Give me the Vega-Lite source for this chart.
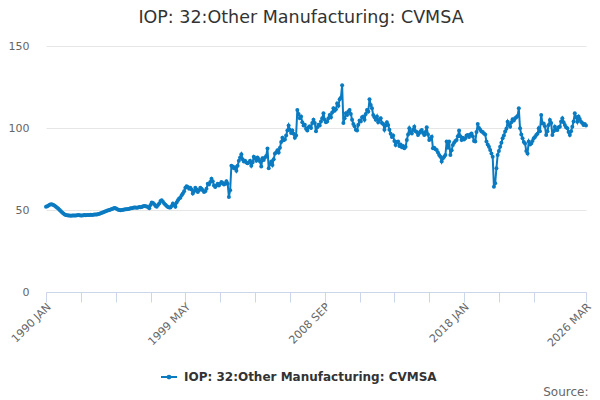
{
"$schema": "https://vega.github.io/schema/vega-lite/v6.json",
"width": 540, "height": 246,
"autosize": {"type": "none"},
"padding": {"left": 46, "top": 46, "right": 14, "bottom": 108},
"config": {"font": "DejaVu Sans", "view": {"stroke": null}},
"title": {"text": "IOP: 32:Other Manufacturing: CVMSA", "fontSize": 17.5, "fontWeight": "normal", "color": "#333333", "anchor": "middle", "dx": -15, "offset": 14},
"data": {"values": [
{"m":"1990 JAN","v":52.0},{"m":"1990 FEB","v":52.3},{"m":"1990 MAR","v":52.8},{"m":"1990 APR","v":53.2},{"m":"1990 MAY","v":53.5},{"m":"1990 JUN","v":53.4},{"m":"1990 JUL","v":53.0},{"m":"1990 AUG","v":52.6},{"m":"1990 SEP","v":52.0},{"m":"1990 OCT","v":51.4},{"m":"1990 NOV","v":50.8},{"m":"1990 DEC","v":50.0},
{"m":"1991 JAN","v":49.2},{"m":"1991 FEB","v":48.4},{"m":"1991 MAR","v":47.8},{"m":"1991 APR","v":47.3},{"m":"1991 MAY","v":47.0},{"m":"1991 JUN","v":46.8},{"m":"1991 JUL","v":46.6},{"m":"1991 AUG","v":46.6},{"m":"1991 SEP","v":46.5},{"m":"1991 OCT","v":46.6},{"m":"1991 NOV","v":46.7},{"m":"1991 DEC","v":46.6},
{"m":"1992 JAN","v":46.7},{"m":"1992 FEB","v":46.8},{"m":"1992 MAR","v":46.9},{"m":"1992 APR","v":46.8},{"m":"1992 MAY","v":46.7},{"m":"1992 JUN","v":46.7},{"m":"1992 JUL","v":46.8},{"m":"1992 AUG","v":46.9},{"m":"1992 SEP","v":46.8},{"m":"1992 OCT","v":46.9},{"m":"1992 NOV","v":47.0},{"m":"1992 DEC","v":47.0},
{"m":"1993 JAN","v":47.1},{"m":"1993 FEB","v":47.0},{"m":"1993 MAR","v":47.1},{"m":"1993 APR","v":47.2},{"m":"1993 MAY","v":47.2},{"m":"1993 JUN","v":47.3},{"m":"1993 JUL","v":47.5},{"m":"1993 AUG","v":47.7},{"m":"1993 SEP","v":48.0},{"m":"1993 OCT","v":48.3},{"m":"1993 NOV","v":48.6},{"m":"1993 DEC","v":48.9},
{"m":"1994 JAN","v":49.2},{"m":"1994 FEB","v":49.5},{"m":"1994 MAR","v":49.8},{"m":"1994 APR","v":50.0},{"m":"1994 MAY","v":50.3},{"m":"1994 JUN","v":50.6},{"m":"1994 JUL","v":50.9},{"m":"1994 AUG","v":51.2},{"m":"1994 SEP","v":51.0},{"m":"1994 OCT","v":50.6},{"m":"1994 NOV","v":50.2},{"m":"1994 DEC","v":50.0},
{"m":"1995 JAN","v":49.9},{"m":"1995 FEB","v":50.0},{"m":"1995 MAR","v":50.2},{"m":"1995 APR","v":50.3},{"m":"1995 MAY","v":50.4},{"m":"1995 JUN","v":50.5},{"m":"1995 JUL","v":50.6},{"m":"1995 AUG","v":50.8},{"m":"1995 SEP","v":51.0},{"m":"1995 OCT","v":51.1},{"m":"1995 NOV","v":51.3},{"m":"1995 DEC","v":51.5},
{"m":"1996 JAN","v":51.6},{"m":"1996 FEB","v":51.4},{"m":"1996 MAR","v":51.6},{"m":"1996 APR","v":51.8},{"m":"1996 MAY","v":51.7},{"m":"1996 JUN","v":51.9},{"m":"1996 JUL","v":52.3},{"m":"1996 AUG","v":52.5},{"m":"1996 SEP","v":52.3},{"m":"1996 OCT","v":52.1},{"m":"1996 NOV","v":51.8},{"m":"1996 DEC","v":51.0},
{"m":"1997 JAN","v":53.0},{"m":"1997 FEB","v":54.5},{"m":"1997 MAR","v":54.2},{"m":"1997 APR","v":53.5},{"m":"1997 MAY","v":52.5},{"m":"1997 JUN","v":52.0},{"m":"1997 JUL","v":53.0},{"m":"1997 AUG","v":54.0},{"m":"1997 SEP","v":55.5},{"m":"1997 OCT","v":56.0},{"m":"1997 NOV","v":55.0},{"m":"1997 DEC","v":54.0},
{"m":"1998 JAN","v":53.2},{"m":"1998 FEB","v":52.5},{"m":"1998 MAR","v":51.8},{"m":"1998 APR","v":51.5},{"m":"1998 MAY","v":51.5},{"m":"1998 JUN","v":52.5},{"m":"1998 JUL","v":54.0},{"m":"1998 AUG","v":53.0},{"m":"1998 SEP","v":52.0},{"m":"1998 OCT","v":54.5},{"m":"1998 NOV","v":56.0},{"m":"1998 DEC","v":57.0},
{"m":"1999 JAN","v":57.5},{"m":"1999 FEB","v":59.0},{"m":"1999 MAR","v":60.0},{"m":"1999 APR","v":61.5},{"m":"1999 MAY","v":63.5},{"m":"1999 JUN","v":64.5},{"m":"1999 JUL","v":64.0},{"m":"1999 AUG","v":63.0},{"m":"1999 SEP","v":63.5},{"m":"1999 OCT","v":62.5},{"m":"1999 NOV","v":60.0},{"m":"1999 DEC","v":61.5},
{"m":"2000 JAN","v":63.5},{"m":"2000 FEB","v":62.5},{"m":"2000 MAR","v":61.0},{"m":"2000 APR","v":62.0},{"m":"2000 MAY","v":63.5},{"m":"2000 JUN","v":63.0},{"m":"2000 JUL","v":62.0},{"m":"2000 AUG","v":61.0},{"m":"2000 SEP","v":61.5},{"m":"2000 OCT","v":63.0},{"m":"2000 NOV","v":66.0},{"m":"2000 DEC","v":65.5},
{"m":"2001 JAN","v":67.0},{"m":"2001 FEB","v":69.0},{"m":"2001 MAR","v":67.5},{"m":"2001 APR","v":65.0},{"m":"2001 MAY","v":64.0},{"m":"2001 JUN","v":65.0},{"m":"2001 JUL","v":66.0},{"m":"2001 AUG","v":65.0},{"m":"2001 SEP","v":66.0},{"m":"2001 OCT","v":67.0},{"m":"2001 NOV","v":66.5},{"m":"2001 DEC","v":65.5},
{"m":"2002 JAN","v":66.0},{"m":"2002 FEB","v":67.5},{"m":"2002 MAR","v":66.0},{"m":"2002 APR","v":58.0},{"m":"2002 MAY","v":62.0},{"m":"2002 JUN","v":77.0},{"m":"2002 JUL","v":76.5},{"m":"2002 AUG","v":75.5},{"m":"2002 SEP","v":76.0},{"m":"2002 OCT","v":74.0},{"m":"2002 NOV","v":77.0},{"m":"2002 DEC","v":80.0},
{"m":"2003 JAN","v":82.0},{"m":"2003 FEB","v":84.0},{"m":"2003 MAR","v":81.0},{"m":"2003 APR","v":79.5},{"m":"2003 MAY","v":80.0},{"m":"2003 JUN","v":79.0},{"m":"2003 JUL","v":78.5},{"m":"2003 AUG","v":79.0},{"m":"2003 SEP","v":80.0},{"m":"2003 OCT","v":77.0},{"m":"2003 NOV","v":79.0},{"m":"2003 DEC","v":82.5},
{"m":"2004 JAN","v":81.5},{"m":"2004 FEB","v":80.0},{"m":"2004 MAR","v":82.0},{"m":"2004 APR","v":81.0},{"m":"2004 MAY","v":79.5},{"m":"2004 JUN","v":76.5},{"m":"2004 JUL","v":81.5},{"m":"2004 AUG","v":80.5},{"m":"2004 SEP","v":82.0},{"m":"2004 OCT","v":83.0},{"m":"2004 NOV","v":87.5},{"m":"2004 DEC","v":75.5},
{"m":"2005 JAN","v":78.0},{"m":"2005 FEB","v":79.5},{"m":"2005 MAR","v":77.5},{"m":"2005 APR","v":81.0},{"m":"2005 MAY","v":84.5},{"m":"2005 JUN","v":85.0},{"m":"2005 JUL","v":86.5},{"m":"2005 AUG","v":85.0},{"m":"2005 SEP","v":88.0},{"m":"2005 OCT","v":91.5},{"m":"2005 NOV","v":94.0},{"m":"2005 DEC","v":92.5},
{"m":"2006 JAN","v":93.0},{"m":"2006 FEB","v":95.5},{"m":"2006 MAR","v":98.5},{"m":"2006 APR","v":101.5},{"m":"2006 MAY","v":99.0},{"m":"2006 JUN","v":97.0},{"m":"2006 JUL","v":98.5},{"m":"2006 AUG","v":96.5},{"m":"2006 SEP","v":94.0},{"m":"2006 OCT","v":95.5},{"m":"2006 NOV","v":111.0},{"m":"2006 DEC","v":108.5},
{"m":"2007 JAN","v":106.0},{"m":"2007 FEB","v":107.0},{"m":"2007 MAR","v":103.5},{"m":"2007 APR","v":101.5},{"m":"2007 MAY","v":102.0},{"m":"2007 JUN","v":99.5},{"m":"2007 JUL","v":98.5},{"m":"2007 AUG","v":100.5},{"m":"2007 SEP","v":101.0},{"m":"2007 OCT","v":100.0},{"m":"2007 NOV","v":103.0},{"m":"2007 DEC","v":105.0},
{"m":"2008 JAN","v":103.0},{"m":"2008 FEB","v":98.0},{"m":"2008 MAR","v":100.5},{"m":"2008 APR","v":102.0},{"m":"2008 MAY","v":101.5},{"m":"2008 JUN","v":104.0},{"m":"2008 JUL","v":106.0},{"m":"2008 AUG","v":109.0},{"m":"2008 SEP","v":105.0},{"m":"2008 OCT","v":103.5},{"m":"2008 NOV","v":104.0},{"m":"2008 DEC","v":106.0},
{"m":"2009 JAN","v":108.0},{"m":"2009 FEB","v":106.5},{"m":"2009 MAR","v":109.5},{"m":"2009 APR","v":112.0},{"m":"2009 MAY","v":110.5},{"m":"2009 JUN","v":111.5},{"m":"2009 JUL","v":115.0},{"m":"2009 AUG","v":113.5},{"m":"2009 SEP","v":117.5},{"m":"2009 OCT","v":118.5},{"m":"2009 NOV","v":126.0},{"m":"2009 DEC","v":103.0},
{"m":"2010 JAN","v":106.0},{"m":"2010 FEB","v":109.0},{"m":"2010 MAR","v":108.0},{"m":"2010 APR","v":110.0},{"m":"2010 MAY","v":111.0},{"m":"2010 JUN","v":108.5},{"m":"2010 JUL","v":105.0},{"m":"2010 AUG","v":102.5},{"m":"2010 SEP","v":101.0},{"m":"2010 OCT","v":99.0},{"m":"2010 NOV","v":98.5},{"m":"2010 DEC","v":102.0},
{"m":"2011 JAN","v":104.5},{"m":"2011 FEB","v":104.0},{"m":"2011 MAR","v":106.5},{"m":"2011 APR","v":107.0},{"m":"2011 MAY","v":105.0},{"m":"2011 JUN","v":108.5},{"m":"2011 JUL","v":111.0},{"m":"2011 AUG","v":110.0},{"m":"2011 SEP","v":117.5},{"m":"2011 OCT","v":114.0},{"m":"2011 NOV","v":112.0},{"m":"2011 DEC","v":108.0},
{"m":"2012 JAN","v":106.5},{"m":"2012 FEB","v":105.0},{"m":"2012 MAR","v":107.0},{"m":"2012 APR","v":103.5},{"m":"2012 MAY","v":105.0},{"m":"2012 JUN","v":106.0},{"m":"2012 JUL","v":103.0},{"m":"2012 AUG","v":102.5},{"m":"2012 SEP","v":99.0},{"m":"2012 OCT","v":101.5},{"m":"2012 NOV","v":103.5},{"m":"2012 DEC","v":101.8},
{"m":"2013 JAN","v":99.0},{"m":"2013 FEB","v":96.5},{"m":"2013 MAR","v":94.5},{"m":"2013 APR","v":95.5},{"m":"2013 MAY","v":92.0},{"m":"2013 JUN","v":89.6},{"m":"2013 JUL","v":91.5},{"m":"2013 AUG","v":91.7},{"m":"2013 SEP","v":89.0},{"m":"2013 OCT","v":90.0},{"m":"2013 NOV","v":88.2},{"m":"2013 DEC","v":89.0},
{"m":"2014 JAN","v":87.6},{"m":"2014 FEB","v":88.5},{"m":"2014 MAR","v":92.7},{"m":"2014 APR","v":96.0},{"m":"2014 MAY","v":99.8},{"m":"2014 JUN","v":97.5},{"m":"2014 JUL","v":96.7},{"m":"2014 AUG","v":99.0},{"m":"2014 SEP","v":100.8},{"m":"2014 OCT","v":98.0},{"m":"2014 NOV","v":97.5},{"m":"2014 DEC","v":95.7},
{"m":"2015 JAN","v":97.0},{"m":"2015 FEB","v":98.0},{"m":"2015 MAR","v":98.8},{"m":"2015 APR","v":97.0},{"m":"2015 MAY","v":95.7},{"m":"2015 JUN","v":97.5},{"m":"2015 JUL","v":100.4},{"m":"2015 AUG","v":96.0},{"m":"2015 SEP","v":92.7},{"m":"2015 OCT","v":93.5},{"m":"2015 NOV","v":94.7},{"m":"2015 DEC","v":87.6},
{"m":"2016 JAN","v":88.0},{"m":"2016 FEB","v":87.0},{"m":"2016 MAR","v":86.6},{"m":"2016 APR","v":85.0},{"m":"2016 MAY","v":83.5},{"m":"2016 JUN","v":82.5},{"m":"2016 JUL","v":79.5},{"m":"2016 AUG","v":81.5},{"m":"2016 SEP","v":82.5},{"m":"2016 OCT","v":83.5},{"m":"2016 NOV","v":91.7},{"m":"2016 DEC","v":88.0},
{"m":"2017 JAN","v":91.7},{"m":"2017 FEB","v":83.5},{"m":"2017 MAR","v":86.5},{"m":"2017 APR","v":89.6},{"m":"2017 MAY","v":91.0},{"m":"2017 JUN","v":92.0},{"m":"2017 JUL","v":92.7},{"m":"2017 AUG","v":95.0},{"m":"2017 SEP","v":98.4},{"m":"2017 OCT","v":95.0},{"m":"2017 NOV","v":92.7},{"m":"2017 DEC","v":94.0},
{"m":"2018 JAN","v":93.0},{"m":"2018 FEB","v":93.7},{"m":"2018 MAR","v":95.5},{"m":"2018 APR","v":95.7},{"m":"2018 MAY","v":94.5},{"m":"2018 JUN","v":96.0},{"m":"2018 JUL","v":96.7},{"m":"2018 AUG","v":95.0},{"m":"2018 SEP","v":92.0},{"m":"2018 OCT","v":91.7},{"m":"2018 NOV","v":97.5},{"m":"2018 DEC","v":102.4},
{"m":"2019 JAN","v":100.0},{"m":"2019 FEB","v":99.0},{"m":"2019 MAR","v":97.8},{"m":"2019 APR","v":97.5},{"m":"2019 MAY","v":96.7},{"m":"2019 JUN","v":96.0},{"m":"2019 JUL","v":91.7},{"m":"2019 AUG","v":90.0},{"m":"2019 SEP","v":88.5},{"m":"2019 OCT","v":86.6},{"m":"2019 NOV","v":84.5},{"m":"2019 DEC","v":82.5},
{"m":"2020 JAN","v":64.2},{"m":"2020 FEB","v":66.3},{"m":"2020 MAR","v":75.4},{"m":"2020 APR","v":83.5},{"m":"2020 MAY","v":86.0},{"m":"2020 JUN","v":88.6},{"m":"2020 JUL","v":91.0},{"m":"2020 AUG","v":93.7},{"m":"2020 SEP","v":95.5},{"m":"2020 OCT","v":97.8},{"m":"2020 NOV","v":99.5},{"m":"2020 DEC","v":103.8},
{"m":"2021 JAN","v":102.0},{"m":"2021 FEB","v":100.8},{"m":"2021 MAR","v":103.5},{"m":"2021 APR","v":105.3},{"m":"2021 MAY","v":104.5},{"m":"2021 JUN","v":105.9},{"m":"2021 JUL","v":106.5},{"m":"2021 AUG","v":107.3},{"m":"2021 SEP","v":112.0},{"m":"2021 OCT","v":99.8},{"m":"2021 NOV","v":96.0},{"m":"2021 DEC","v":93.7},
{"m":"2022 JAN","v":91.5},{"m":"2022 FEB","v":90.6},{"m":"2022 MAR","v":86.0},{"m":"2022 APR","v":84.5},{"m":"2022 MAY","v":91.7},{"m":"2022 JUN","v":90.0},{"m":"2022 JUL","v":90.6},{"m":"2022 AUG","v":92.0},{"m":"2022 SEP","v":93.7},{"m":"2022 OCT","v":94.5},{"m":"2022 NOV","v":95.7},{"m":"2022 DEC","v":96.5},
{"m":"2023 JAN","v":99.8},{"m":"2023 FEB","v":98.0},{"m":"2023 MAR","v":108.0},{"m":"2023 APR","v":102.8},{"m":"2023 MAY","v":102.8},{"m":"2023 JUN","v":101.0},{"m":"2023 JUL","v":95.7},{"m":"2023 AUG","v":98.0},{"m":"2023 SEP","v":101.8},{"m":"2023 OCT","v":104.9},{"m":"2023 NOV","v":103.0},{"m":"2023 DEC","v":95.7},
{"m":"2024 JAN","v":98.0},{"m":"2024 FEB","v":100.8},{"m":"2024 MAR","v":99.0},{"m":"2024 APR","v":98.8},{"m":"2024 MAY","v":100.5},{"m":"2024 JUN","v":100.8},{"m":"2024 JUL","v":104.0},{"m":"2024 AUG","v":105.9},{"m":"2024 SEP","v":103.5},{"m":"2024 OCT","v":101.8},{"m":"2024 NOV","v":100.5},{"m":"2024 DEC","v":99.8},
{"m":"2025 JAN","v":97.5},{"m":"2025 FEB","v":95.7},{"m":"2025 MAR","v":98.0},{"m":"2025 APR","v":100.8},{"m":"2025 MAY","v":104.0},{"m":"2025 JUN","v":109.0},{"m":"2025 JUL","v":106.5},{"m":"2025 AUG","v":103.8},{"m":"2025 SEP","v":107.0},{"m":"2025 OCT","v":105.5},{"m":"2025 NOV","v":103.8},{"m":"2025 DEC","v":103.0},
{"m":"2026 JAN","v":101.8},{"m":"2026 FEB","v":102.5},{"m":"2026 MAR","v":101.5}
]},
"mark": {"type": "line", "strokeWidth": 2, "point": {"filled": true, "size": 16}},
"encoding": {
  "x": {"field": "m", "type": "ordinal", "sort": null, "scale": {"type": "point", "padding": 0},
    "axis": {"values": ["1990 JAN","1992 MAY","1994 SEP","1997 JAN","1999 MAY","2001 SEP","2004 JAN","2006 MAY","2008 SEP","2011 JAN","2013 MAY","2015 SEP","2018 JAN","2020 MAY","2022 SEP","2026 MAR"],
      "labelExpr": "indexof(['1990 JAN','1999 MAY','2008 SEP','2018 JAN','2026 MAR'], datum.value) >= 0 ? datum.value : ''",
      "labelAngle": -45, "labelAlign": "right", "labelBaseline": "middle", "labelPadding": 3, "labelOffset": 3, "labelColor": "#666666", "labelFontSize": 11, "labelOverlap": false, "labelFlush": false,
      "domainColor": "#ccd6eb", "tickColor": "#ccd6eb", "tickSize": 10, "grid": false,
      "title": "Source:", "titleX": 542, "titleY": 103, "titleAlign": "right", "titleAnchor": null, "titleBaseline": "alphabetic", "titleFontWeight": "normal", "titleFontSize": 12, "titleColor": "#666666"}},
  "y": {"field": "v", "type": "quantitative", "scale": {"domain": [0, 150]},
    "axis": {"values": [0, 50, 100, 150], "domain": false, "ticks": false, "gridColor": "#e6e6e6", "labelColor": "#666666", "labelFontSize": 11, "labelPadding": 17, "title": null}},
  "color": {"datum": "IOP: 32:Other Manufacturing: CVMSA", "scale": {"range": ["#0b7bc1"]},
    "legend": {"orient": "none", "legendX": 114, "legendY": 322, "title": null, "labelFontSize": 12, "labelFontWeight": "bold", "labelColor": "#333333", "labelLimit": 0, "labelOffset": 6,
      "symbolType": "M-1,0H1M0.17,0A0.17,0.17,0,1,1,-0.17,0A0.17,0.17,0,1,1,0.17,0", "symbolSize": 256, "symbolStrokeWidth": 2, "symbolFillColor": "#0b7bc1", "symbolStrokeColor": "#0b7bc1"}}
}
}
